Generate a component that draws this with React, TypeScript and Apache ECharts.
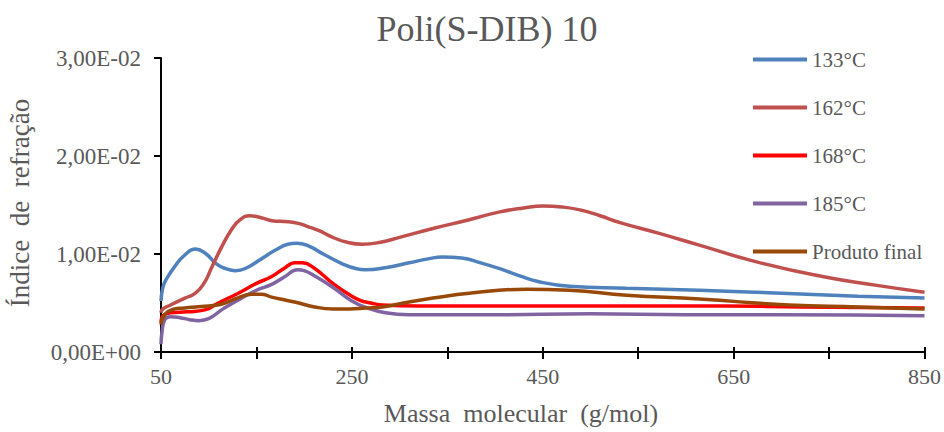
import React, { useEffect, useRef } from "react";
import * as echarts from "echarts";

const titleText = "Poli(S-DIB) 10";
const xAxisName = "Massa  molecular  (g/mol)";
const yAxisName = "Índice  de  refração";
const seriesNames = ["133°C", "162°C", "168°C", "185°C", "Produto final"];
const seriesColors = ["#4F81BD", "#C0504D", "#FF0000", "#8064A2", "#984807"];
const xLabelValues = [50, 250, 450, 650, 850];
const yTickLabels = ["0,00E+00", "1,00E-02", "2,00E-02", "3,00E-02"];

const s133: [number, number][] = [
  [50, 0.0052], [52, 0.0066], [56, 0.0075], [65, 0.0088], [75, 0.0099], [86, 0.0105],
  [96, 0.0101], [108, 0.009], [118, 0.0085], [128, 0.0083], [140, 0.0086], [155, 0.0095],
  [170, 0.0104], [183, 0.011], [192, 0.0111], [205, 0.0108], [220, 0.01], [240, 0.009],
  [255, 0.0085], [264, 0.0084], [285, 0.0086], [310, 0.0091], [330, 0.0095], [345, 0.0097],
  [365, 0.0096], [385, 0.0091], [405, 0.0085], [425, 0.0078], [445, 0.0072], [478, 0.0067],
  [538, 0.0065], [614, 0.0063], [700, 0.006], [780, 0.0057], [850, 0.0055],
];
const s162: [number, number][] = [
  [50, 0.004], [52, 0.0044], [60, 0.0048], [75, 0.0055], [86, 0.006], [95, 0.007],
  [103, 0.0086], [114, 0.0108], [124, 0.0125], [133, 0.0135], [143, 0.0139], [155, 0.0137],
  [166, 0.0134], [183, 0.0133], [195, 0.0131], [204, 0.0128], [215, 0.0124], [230, 0.0117],
  [245, 0.0112], [261, 0.011], [280, 0.0112], [300, 0.0117], [335, 0.0126], [373, 0.0135],
  [405, 0.0143], [430, 0.0147], [450, 0.0149], [470, 0.0148], [489, 0.0145], [510, 0.0139],
  [531, 0.0132], [572, 0.0121], [614, 0.0109], [674, 0.0092], [743, 0.0077], [800, 0.0068],
  [850, 0.0061],
];
const s168: [number, number][] = [
  [50, 0.003], [52, 0.0037], [60, 0.004], [78, 0.0041], [96, 0.0043], [110, 0.005],
  [131, 0.006], [150, 0.007], [166, 0.0077], [180, 0.0086], [190, 0.0091], [198, 0.0091],
  [210, 0.0086], [230, 0.007], [245, 0.006], [258, 0.0053], [270, 0.005], [282, 0.0048],
  [320, 0.0047], [400, 0.0047], [480, 0.0047], [560, 0.0047], [640, 0.0047], [720, 0.0046],
  [850, 0.0045],
];
const s185: [number, number][] = [
  [50, 0.0008], [51, 0.002], [54, 0.0033], [60, 0.0036], [70, 0.0035], [80, 0.0033],
  [90, 0.0032], [100, 0.0034], [115, 0.0044], [131, 0.0053], [150, 0.0063], [166, 0.0069],
  [180, 0.0077], [193, 0.0084], [200, 0.0083], [212, 0.0077], [230, 0.0066], [250, 0.0052],
  [266, 0.0045], [285, 0.004], [310, 0.0038], [400, 0.0038], [500, 0.0039], [600, 0.0038],
  [700, 0.0038], [850, 0.0037],
];
const sFinal: [number, number][] = [
  [50, 0.0028], [52, 0.0035], [61, 0.0043], [75, 0.0045], [86, 0.0046], [100, 0.0047],
  [114, 0.0049], [130, 0.0055], [145, 0.0059], [155, 0.0059], [166, 0.0056], [180, 0.0053],
  [190, 0.0051], [211, 0.0046], [230, 0.0044], [248, 0.0044], [265, 0.0045], [282, 0.0046],
  [310, 0.0051], [335, 0.0055], [373, 0.006], [433, 0.0064], [478, 0.0063], [538, 0.0058],
  [614, 0.0054], [708, 0.0048], [780, 0.0046], [850, 0.0044],
];
const seriesData = [s133, s162, s168, s185, sFinal];

const FONT = "Liberation Serif";
const TXT = "#595959";

export default function App() {
  const ref = useRef<HTMLDivElement>(null);
  useEffect(() => {
    if (!ref.current) return;
    const chart = echarts.init(ref.current, null, { renderer: "svg" });
    const axisX = {
      type: "value",
      min: 50,
      max: 850,
      interval: 100,
      position: "bottom",
      splitLine: { show: false },
    };
    chart.setOption({
      animation: false,
      textStyle: { fontFamily: FONT },
      grid: { left: 161, right: 19, top: 58, bottom: 80 },
      graphic: [
        {
          type: "text",
          x: 487,
          y: 29,
          style: {
            text: titleText,
            fontFamily: FONT,
            fontSize: 36,
            fill: TXT,
            textAlign: "center",
            textVerticalAlign: "middle",
          },
        },
        {
          type: "text",
          x: 521,
          y: 413,
          style: {
            text: xAxisName,
            fontFamily: FONT,
            fontSize: 26,
            fill: TXT,
            textAlign: "center",
            textVerticalAlign: "middle",
          },
        },
        {
          type: "text",
          x: 20,
          y: 203,
          rotation: Math.PI / 2,
          style: {
            text: yAxisName,
            fontFamily: FONT,
            fontSize: 27,
            fill: TXT,
            textAlign: "center",
            textVerticalAlign: "middle",
          },
        },
      ],
      legend: {
        orient: "vertical",
        left: 753,
        top: 49,
        padding: 0,
        icon: "rect",
        itemWidth: 54,
        itemHeight: 4,
        itemGap: 27,
        data: seriesNames,
        textStyle: { color: TXT, fontFamily: FONT, fontSize: 21, lineHeight: 21 },
      },
      xAxis: [
        {
          ...axisX,
          axisLine: { show: true, lineStyle: { color: "#000", width: 2 } },
          axisTick: { show: true, inside: false, length: 7, lineStyle: { color: "#000", width: 2 } },
          axisLabel: {
            show: true,
            margin: 13,
            color: TXT,
            fontFamily: FONT,
            fontSize: 22,
            showMinLabel: true,
            showMaxLabel: true,
            formatter: (v: number) => (xLabelValues.includes(Math.round(v)) ? String(Math.round(v)) : ""),
          },
        },
        {
          ...axisX,
          axisLine: { show: false },
          axisTick: { show: true, inside: true, length: 5, lineStyle: { color: "#000", width: 2 } },
          axisLabel: { show: false },
        },
      ],
      yAxis: {
        type: "value",
        min: 0,
        max: 0.03,
        interval: 0.01,
        splitLine: { show: false },
        axisLine: { show: true, lineStyle: { color: "#000", width: 2 } },
        axisTick: { show: true, inside: false, length: 7, lineStyle: { color: "#000", width: 2 } },
        axisLabel: {
          margin: 20,
          color: TXT,
          fontFamily: FONT,
          fontSize: 23,
          formatter: (v: number) => yTickLabels[Math.round(v / 0.01)] ?? "",
        },
      },
      series: seriesNames.map((name, i) => ({
        name,
        type: "line",
        xAxisIndex: 0,
        data: seriesData[i],
        smooth: 0.5,
        showSymbol: false,
        symbol: "none",
        lineStyle: { color: seriesColors[i], width: 3.5 },
        itemStyle: { color: seriesColors[i] },
      })),
    });
    return () => chart.dispose();
  }, []);
  return (
    <div
      ref={ref}
      style={{ position: "fixed", left: 0, top: 0, width: 944, height: 432, background: "#fff" }}
    />
  );
}
